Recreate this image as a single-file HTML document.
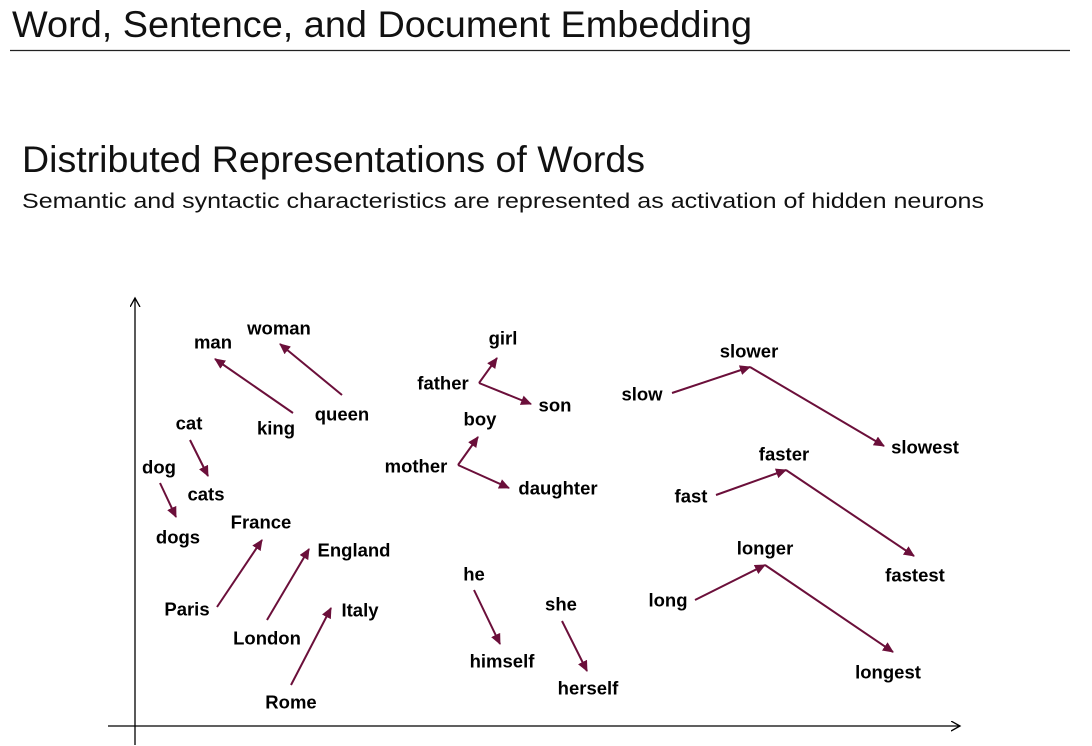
<!DOCTYPE html>
<html><head><meta charset="utf-8"><style>
html,body{margin:0;padding:0;background:#fff;}
svg{display:block;}
</style></head><body>
<svg width="1092" height="746" viewBox="0 0 1092 746" xmlns="http://www.w3.org/2000/svg">
<defs>
<marker id="a" markerWidth="12" markerHeight="12" refX="10" refY="5" orient="auto" markerUnits="userSpaceOnUse">
<path d="M0,0 L11,5 L0,10 Z" fill="#6b0f3a"/>
</marker>
<marker id="k" markerWidth="12" markerHeight="12" refX="9" refY="5" orient="auto" markerUnits="userSpaceOnUse">
<path d="M0,0 L9,5 L0,10" fill="none" stroke="#000" stroke-width="1.3"/>
</marker>
</defs>
<g font-family="Liberation Sans, sans-serif" fill="#111">
<text x="12" y="37" font-size="37" textLength="740" lengthAdjust="spacingAndGlyphs">Word, Sentence, and Document Embedding</text>
<text x="22" y="172" font-size="37" textLength="623" lengthAdjust="spacingAndGlyphs">Distributed Representations of Words</text>
<text x="22" y="208" font-size="21" textLength="962" lengthAdjust="spacingAndGlyphs">Semantic and syntactic characteristics are represented as activation of hidden neurons</text>
</g>
<line x1="10" y1="50.5" x2="1070" y2="50.5" stroke="#222" stroke-width="1.2"/>
<line x1="135" y1="745" x2="135" y2="298" stroke="#000" stroke-width="1.3" marker-end="url(#k)"/>
<line x1="108" y1="726" x2="960" y2="726" stroke="#000" stroke-width="1.3" marker-end="url(#k)"/>
<g stroke="#6b0f3a" stroke-width="2" marker-end="url(#a)">
<line x1="293" y1="413" x2="215" y2="359"/>
<line x1="342" y1="395" x2="280" y2="344"/>
<line x1="190" y1="440" x2="208" y2="476"/>
<line x1="160" y1="483" x2="176" y2="517"/>
<line x1="217" y1="607" x2="262" y2="540"/>
<line x1="267" y1="620" x2="309" y2="549"/>
<line x1="291" y1="685" x2="331" y2="608"/>
<line x1="479" y1="383" x2="497" y2="358"/>
<line x1="479" y1="383" x2="531" y2="404"/>
<line x1="458" y1="465" x2="478" y2="437"/>
<line x1="458" y1="465" x2="509" y2="488"/>
<line x1="474" y1="590" x2="500" y2="644"/>
<line x1="562" y1="621" x2="587" y2="671"/>
<line x1="672" y1="393" x2="750" y2="367"/>
<line x1="750" y1="367" x2="884" y2="446"/>
<line x1="716" y1="495" x2="786" y2="470"/>
<line x1="786" y1="470" x2="914" y2="556"/>
<line x1="695" y1="600" x2="765" y2="565"/>
<line x1="765" y1="565" x2="893" y2="652"/>
</g>
<g font-family="Liberation Sans, sans-serif" font-weight="bold" font-size="18.5" text-anchor="middle" dominant-baseline="central" fill="#000">
<text x="213" y="342">man</text>
<text x="279" y="328">woman</text>
<text x="276" y="428">king</text>
<text x="342" y="414">queen</text>
<text x="189" y="423">cat</text>
<text x="159" y="467">dog</text>
<text x="206" y="494">cats</text>
<text x="178" y="537">dogs</text>
<text x="261" y="522">France</text>
<text x="354" y="550">England</text>
<text x="187" y="609">Paris</text>
<text x="267" y="638">London</text>
<text x="360" y="610">Italy</text>
<text x="291" y="702">Rome</text>
<text x="503" y="338">girl</text>
<text x="443" y="383">father</text>
<text x="555" y="405">son</text>
<text x="480" y="419">boy</text>
<text x="416" y="466">mother</text>
<text x="558" y="488">daughter</text>
<text x="474" y="574">he</text>
<text x="502" y="661">himself</text>
<text x="561" y="604">she</text>
<text x="588" y="688">herself</text>
<text x="642" y="394">slow</text>
<text x="749" y="351">slower</text>
<text x="925" y="447">slowest</text>
<text x="691" y="496">fast</text>
<text x="784" y="454">faster</text>
<text x="915" y="575">fastest</text>
<text x="668" y="600">long</text>
<text x="765" y="548">longer</text>
<text x="888" y="672">longest</text>
</g>
</svg>
</body></html>
